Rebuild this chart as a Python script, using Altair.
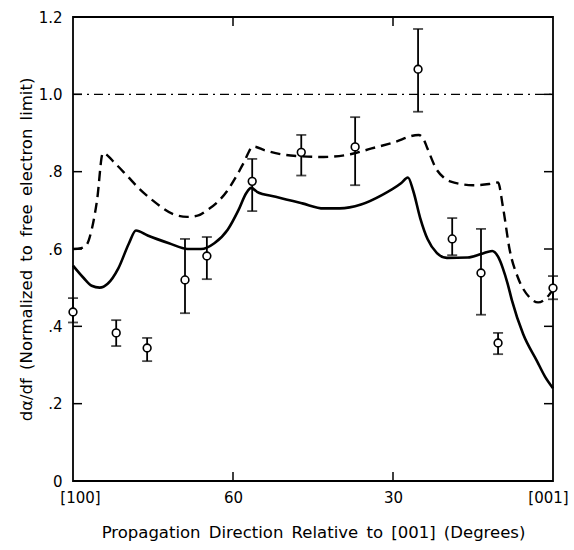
import altair as alt
import pandas as pd

# Theoretical curves: propagation angle (degrees from [001]) vs normalized d(alpha)/df
solid_deg = [90, 88, 86.5, 85, 83.5, 81.5, 79.5, 78.2, 76, 72, 68.5, 66, 63.5, 61, 59, 57.5,
             56.6, 55.5, 52, 47, 43, 40, 36, 32, 28.5, 27.2, 26.2, 24.9, 23.5, 21.8, 19.9, 16,
             13.3, 11.4, 10.3, 9.4, 8.5, 7.7, 5.6, 3.0, 1.5, 0]
solid_val = [0.557, 0.525, 0.505, 0.50, 0.51, 0.55, 0.615, 0.648, 0.635, 0.615, 0.60, 0.60,
             0.615, 0.65, 0.70, 0.745, 0.758, 0.748, 0.735, 0.718, 0.705, 0.705, 0.715, 0.74,
             0.77, 0.785, 0.75, 0.68, 0.625, 0.59, 0.577, 0.578, 0.588, 0.595, 0.58, 0.55,
             0.51, 0.467, 0.38, 0.31, 0.27, 0.24]

dashed_deg = [90, 88.5, 87.4, 86.5, 85.5, 84.4, 82, 79.9, 77.5, 75, 71.2, 68.6, 66.5, 64.9,
              63, 61.1, 59.5, 58.1, 56.2, 54, 51, 47.4, 43, 38, 34, 30, 25.2, 24.3, 23.6,
              21.8, 20.5, 19.3, 15, 12, 10.3, 9.4, 8.1, 6.6, 4.4, 2.8, 1.5, 0]
dashed_val = [0.60, 0.602, 0.612, 0.65, 0.725, 0.848, 0.82, 0.79, 0.755, 0.725, 0.69, 0.683,
              0.687, 0.70, 0.72, 0.75, 0.785, 0.82, 0.865, 0.855, 0.845, 0.84, 0.838, 0.845,
              0.86, 0.875, 0.895, 0.885, 0.862, 0.805, 0.785, 0.775, 0.765, 0.768, 0.772,
              0.71, 0.596, 0.527, 0.475, 0.462, 0.47, 0.495]

# Free electron limit
limit_deg = [90, 0]
limit_val = [1.0, 1.0]

# Measured points with error bars
pt_deg = [90, 81.9, 76.1, 69, 64.9, 56.4, 47.2, 37.1, 25.3, 18.9, 13.5, 10.3, 0]
pt_val = [0.437, 0.383, 0.344, 0.52, 0.582, 0.775, 0.85, 0.864, 1.065, 0.626, 0.538, 0.357, 0.499]
pt_lo = [0.41, 0.349, 0.31, 0.434, 0.522, 0.698, 0.79, 0.765, 0.955, 0.584, 0.43, 0.328, 0.47]
pt_hi = [0.473, 0.416, 0.37, 0.626, 0.631, 0.833, 0.895, 0.941, 1.169, 0.68, 0.652, 0.383, 0.53]

x_ticks = [90, 60, 30, 0]
y_ticks = [0, 0.2, 0.4, 0.6, 0.8, 1.0, 1.2]

FONT = "DejaVu Sans"
SP = "\u2002"  # wide word spacing in the axis titles
W, H = 480, 464

solid_df = pd.DataFrame({"deg": solid_deg, "val": solid_val})
dashed_df = pd.DataFrame({"deg": dashed_deg, "val": dashed_val})
limit_df = pd.DataFrame({"deg": limit_deg, "val": limit_val})
pts_df = pd.DataFrame({"deg": pt_deg, "val": pt_val, "lo": pt_lo, "hi": pt_hi})
xt_df = pd.DataFrame({"deg": x_ticks[1:-1]})
yt_df = pd.DataFrame({"val": y_ticks[1:-1]})

x_scale = alt.Scale(domain=[0, 90], reverse=True, nice=False, zero=False)
y_scale = alt.Scale(domain=[0, 1.2], nice=False)

x_axis = alt.Axis(
    values=x_ticks,
    labelExpr="datum.value == 90 ? '[100]' : datum.value == 0 ? '[001]' : datum.value",
    labelOffset={"condition": [{"test": "datum.value == 90", "value": 7},
                               {"test": "datum.value == 0", "value": -5}],
                 "value": 0},
    ticks=False, grid=False, domain=False, labelPadding=9,
    labelFont=FONT, labelFontSize=15, labelColor="black", labelFlush=False,
    title=SP.join("Propagation Direction Relative to [001] (Degrees)".split(" ")),
    titleFont=FONT, titleFontSize=16.5, titleFontWeight="normal", titleColor="black",
    titlePadding=19,
)
y_axis = alt.Axis(
    values=y_ticks,
    labelExpr="datum.value == 0 ? '0' : datum.value >= 1 ? format(datum.value, '.1f') : replace(format(datum.value, '.1f'), '0.', '.')",
    ticks=False, grid=False, domain=False, labelPadding=11,
    labelFont=FONT, labelFontSize=15, labelColor="black", labelFlush=False,
    title=SP.join("dα/df (Normalized to free electron limit)".split(" ")),
    titleFont=FONT, titleFontSize=16.5, titleFontWeight="normal", titleColor="black",
    titlePadding=4, titleLimit=500,
)

X = alt.X("deg:Q", scale=x_scale, axis=x_axis)
Y = alt.Y("val:Q", scale=y_scale, axis=y_axis)

solid = alt.Chart(solid_df).mark_line(
    color="black", strokeWidth=2.6, interpolate="monotone"
).encode(x=X, y=Y)

dashed = alt.Chart(dashed_df).mark_line(
    color="black", strokeWidth=2.4, strokeDash=[10, 6], interpolate="monotone"
).encode(x=X, y=Y)

limit = alt.Chart(limit_df).mark_line(
    color="black", strokeWidth=1.4, strokeDash=[9, 5, 2, 5]
).encode(x=X, y=Y)

bars = alt.Chart(pts_df).mark_rule(color="black", strokeWidth=1.8).encode(
    x=X, y=alt.Y("lo:Q", scale=y_scale), y2="hi:Q"
)
cap_lo = alt.Chart(pts_df).mark_tick(color="black", orient="horizontal", size=10, thickness=1.8).encode(
    x=X, y=alt.Y("lo:Q", scale=y_scale)
)
cap_hi = alt.Chart(pts_df).mark_tick(color="black", orient="horizontal", size=10, thickness=1.8).encode(
    x=X, y=alt.Y("hi:Q", scale=y_scale)
)
points = alt.Chart(pts_df).mark_point(
    shape="circle", size=60, filled=False, fill="white", fillOpacity=1,
    stroke="black", strokeWidth=1.6, opacity=1
).encode(x=X, y=Y)

# Inward-pointing tick marks on all four sides of the frame
TL = 9
tick_style = dict(color="black", strokeWidth=1.5)
left_ticks = alt.Chart(yt_df).mark_rule(**tick_style).encode(
    y=alt.Y("val:Q", scale=y_scale), x=alt.value(0), x2=alt.value(TL))
right_ticks = alt.Chart(yt_df).mark_rule(**tick_style).encode(
    y=alt.Y("val:Q", scale=y_scale), x=alt.value(W - TL), x2=alt.value(W))
bottom_ticks = alt.Chart(xt_df).mark_rule(**tick_style).encode(
    x=alt.X("deg:Q", scale=x_scale), y=alt.value(H - TL), y2=alt.value(H))
top_ticks = alt.Chart(xt_df).mark_rule(**tick_style).encode(
    x=alt.X("deg:Q", scale=x_scale), y=alt.value(0), y2=alt.value(TL))

chart = alt.layer(
    limit, dashed, solid, bars, cap_lo, cap_hi, points,
    left_ticks, right_ticks, bottom_ticks, top_ticks,
).properties(
    width=W, height=H,
    padding={"left": 73, "top": 17, "right": 21, "bottom": 69},
    autosize=alt.AutoSizeParams(type="none"),
    background="white",
).configure_view(stroke="black", strokeWidth=1.8)

chart.save("out.html", embed_options={"renderer": "svg", "actions": False})
